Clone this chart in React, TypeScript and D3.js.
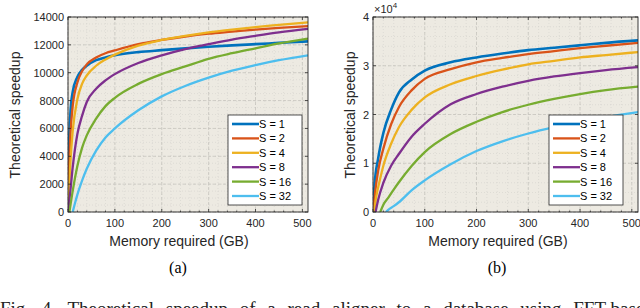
import React from "react";
import * as d3 from "d3";

// legend labels + matlab default colours
const seriesNames = ["S = 1", "S = 2", "S = 4", "S = 8", "S = 16", "S = 32"];
const colors = ["#0072bd", "#d95319", "#edb120", "#7e2f8e", "#77ac30", "#4dbeee"];

// panel (a): memory (GB) -> speedup
const memA = [
  [0, 2, 5, 10, 20, 30, 40, 60, 80, 100, 150, 200, 250, 300, 350, 400, 450, 512],
  [0, 2, 5, 10, 20, 30, 40, 60, 80, 100, 150, 200, 250, 300, 350, 400, 450, 512],
  [0, 2, 5, 10, 20, 30, 40, 60, 80, 100, 150, 200, 250, 300, 350, 400, 450, 512],
  [0, 5, 10, 20, 30, 40, 60, 80, 100, 150, 200, 250, 300, 350, 400, 450, 512],
  [3, 10, 20, 30, 40, 60, 80, 100, 150, 200, 250, 300, 350, 400, 450, 512],
  [10, 15, 20, 30, 40, 60, 80, 100, 150, 200, 250, 300, 350, 400, 450, 512],
];
const speedA = [
  [0, 4500, 7000, 8600, 9700, 10200, 10500, 10900, 11100, 11250, 11480, 11620, 11750, 11860, 11960, 12050, 12140, 12250],
  [0, 3000, 5500, 7600, 9300, 10100, 10600, 11100, 11400, 11600, 12050, 12350, 12600, 12800, 12950, 13100, 13220, 13350],
  [0, 1500, 3500, 5800, 8100, 9200, 9800, 10500, 10950, 11300, 11950, 12350, 12650, 12900, 13100, 13280, 13430, 13620],
  [0, 1500, 3200, 5600, 6900, 7900, 8850, 9450, 9900, 10700, 11250, 11700, 12050, 12380, 12650, 12900, 13150],
  [0, 1500, 3300, 4600, 5500, 6700, 7600, 8200, 9200, 9900, 10450, 11000, 11400, 11750, 12100, 12450],
  [0, 650, 1250, 2250, 3100, 4400, 5350, 6000, 7300, 8300, 9050, 9650, 10150, 10550, 10900, 11250],
];

// panel (b): speedup in units of 1e4
const memB = [
  [0, 3, 10, 20, 35, 50, 75, 100, 150, 200, 250, 300, 350, 400, 450, 512],
  [0, 4, 10, 20, 35, 50, 75, 100, 150, 200, 250, 300, 350, 400, 450, 512],
  [2, 6, 12, 20, 35, 50, 75, 100, 150, 200, 250, 300, 350, 400, 450, 512],
  [5, 10, 20, 35, 50, 75, 100, 150, 200, 250, 300, 350, 400, 450, 512],
  [14, 20, 30, 40, 50, 75, 100, 150, 200, 250, 300, 350, 400, 450, 512],
  [25, 30, 40, 50, 75, 100, 150, 200, 250, 300, 350, 400, 450, 512],
];
const speedB = [
  [0, 0.55, 1.1, 1.62, 2.1, 2.45, 2.72, 2.9, 3.07, 3.17, 3.25, 3.32, 3.37, 3.42, 3.47, 3.52],
  [0, 0.4, 0.85, 1.3, 1.8, 2.15, 2.5, 2.73, 2.93, 3.07, 3.16, 3.24, 3.3, 3.36, 3.41, 3.47],
  [0, 0.3, 0.6, 0.95, 1.4, 1.74, 2.1, 2.35, 2.62, 2.79, 2.92, 3.03, 3.1, 3.17, 3.22, 3.28],
  [0, 0.25, 0.6, 0.95, 1.19, 1.55, 1.81, 2.21, 2.42, 2.57, 2.69, 2.78, 2.85, 2.91, 2.97],
  [0, 0.15, 0.3, 0.46, 0.61, 0.95, 1.23, 1.6, 1.85, 2.05, 2.2, 2.32, 2.42, 2.5, 2.57],
  [0, 0.05, 0.12, 0.2, 0.45, 0.65, 0.98, 1.25, 1.45, 1.61, 1.74, 1.85, 1.95, 2.05],
];

const xTicks = [0, 100, 200, 300, 400, 500];
const yTicksA = [0, 2000, 4000, 6000, 8000, 10000, 12000, 14000];
const yTicksB = [0, 1, 2, 3, 4];

const FONT = "'Liberation Sans', Arial, sans-serif";

function Panel({ left, right, top, bottom, yMax, yTicks, yMinor, mem, speed, legend, expo }) {
  const x = d3.scaleLinear().domain([0, 512]).range([left, right]);
  const y = d3.scaleLinear().domain([0, yMax]).range([bottom, top]);
  const line = d3.line<number>().curve(d3.curveMonotoneX);
  const xMinor = d3.range(0, 513, 20);
  const yMin = d3.range(0, yMax + 1e-9, yMinor);
  const clipId = `clip${left}`;
  return (
    <g>
      <defs>
        <clipPath id={clipId}>
          <rect x={left} y={top} width={right - left} height={bottom - top} />
        </clipPath>
      </defs>
      <rect x={left} y={top} width={right - left} height={bottom - top} fill="#edeae2" />
      {/* minor grid */}
      {xMinor.map((v) => (
        <line key={"xm" + v} x1={x(v)} x2={x(v)} y1={top} y2={bottom} stroke="#d4d2cc" strokeWidth={0.6} strokeDasharray="1,2" />
      ))}
      {yMin.map((v) => (
        <line key={"ym" + v} x1={left} x2={right} y1={y(v)} y2={y(v)} stroke="#d4d2cc" strokeWidth={0.6} strokeDasharray="1,2" />
      ))}
      {/* major grid */}
      {xTicks.map((v) => (
        <line key={"xg" + v} x1={x(v)} x2={x(v)} y1={top} y2={bottom} stroke="#c6c4be" strokeWidth={0.8} strokeDasharray="3,2" />
      ))}
      {yTicks.map((v) => (
        <line key={"yg" + v} x1={left} x2={right} y1={y(v)} y2={y(v)} stroke="#c6c4be" strokeWidth={0.8} strokeDasharray="3,2" />
      ))}
      <g clipPath={`url(#${clipId})`}>
        {speed.map((s, i) => (
          <path
            key={i}
            d={line(s.map((v, j) => [x(mem[i][j]), y(v)]))}
            fill="none"
            stroke={colors[i]}
            strokeWidth={i === 0 ? 2.6 : 2.3}
          />
        ))}
      </g>
      {/* ticks */}
      {xMinor.map((v) => (
        <g key={"xt" + v}>
          <line x1={x(v)} x2={x(v)} y1={bottom} y2={bottom - (v % 100 === 0 ? 3 : 1.5)} stroke="#262626" strokeWidth={0.8} />
          <line x1={x(v)} x2={x(v)} y1={top} y2={top + (v % 100 === 0 ? 3 : 1.5)} stroke="#262626" strokeWidth={0.8} />
        </g>
      ))}
      {yTicks.map((v) => (
        <g key={"yt" + v}>
          <line x1={left} x2={left + 3} y1={y(v)} y2={y(v)} stroke="#262626" strokeWidth={0.8} />
          <line x1={right} x2={right - 3} y1={y(v)} y2={y(v)} stroke="#262626" strokeWidth={0.8} />
        </g>
      ))}
      <rect x={left} y={top} width={right - left} height={bottom - top} fill="none" stroke="#262626" strokeWidth={0.9} />
      {xTicks.map((v) => (
        <text key={"xl" + v} x={x(v)} y={bottom + 15} textAnchor="middle" fontFamily={FONT} fontSize={11} fill="#262626">
          {v}
        </text>
      ))}
      {yTicks.map((v) => (
        <text key={"yl" + v} x={left - 4} y={y(v) + 4} textAnchor="end" fontFamily={FONT} fontSize={11} fill="#262626">
          {v}
        </text>
      ))}
      {expo && (
        <text x={left + 1} y={top - 4} fontFamily={FONT} fontSize={11} fill="#262626">
          ×10
          <tspan dy={-5} fontSize={8}>4</tspan>
        </text>
      )}
      {/* legend */}
      <rect x={legend[0]} y={legend[1]} width={74} height={90} fill="#ffffff" stroke="#262626" strokeWidth={0.8} />
      {seriesNames.map((n, i) => {
        const ly = legend[1] + 9 + i * 14.4;
        return (
          <g key={n}>
            <line x1={legend[0] + 4} x2={legend[0] + 31} y1={ly} y2={ly} stroke={colors[i]} strokeWidth={i === 0 ? 2.6 : 2.3} />
            <text x={legend[0] + 31} y={ly + 4} fontFamily={FONT} fontSize={11} fill="#000">
              {n}
            </text>
          </g>
        );
      })}
    </g>
  );
}

export default function App() {
  return (
    <svg width={640} height={308} style={{ position: "absolute", left: 0, top: 0, background: "#fff" }}>
      <Panel left={68} right={308} top={17} bottom={212} yMax={14000} yTicks={yTicksA} yMinor={500}
        mem={memA} speed={speedA} legend={[228, 115]} expo={false} />
      <Panel left={373} right={638} top={17} bottom={212} yMax={4} yTicks={yTicksB} yMinor={0.2}
        mem={memB} speed={speedB} legend={[549, 115]} expo={true} />
      <text transform="translate(20,115) rotate(-90)" textAnchor="middle" fontFamily={FONT} fontSize={14} fill="#262626">
        Theoretical speedup
      </text>
      <text transform="translate(355,115) rotate(-90)" textAnchor="middle" fontFamily={FONT} fontSize={14} fill="#262626">
        Theoretical speedup
      </text>
      <text x={179} y={246} textAnchor="middle" fontFamily={FONT} fontSize={14} fill="#262626">Memory required (GB)</text>
      <text x={498} y={246} textAnchor="middle" fontFamily={FONT} fontSize={14} fill="#262626">Memory required (GB)</text>
      <text x={178} y={273} textAnchor="middle" fontFamily="'Liberation Serif', serif" fontSize={16}>(a)</text>
      <text x={497} y={273} textAnchor="middle" fontFamily="'Liberation Serif', serif" fontSize={16}>(b)</text>
      <text x={0} y={315} fontFamily="'Liberation Serif', serif" fontSize={19} fill="#222" wordSpacing={7}>
        Fig. 4. Theoretical speedup of a read aligner to a database using FFT-based
      </text>
    </svg>
  );
}
